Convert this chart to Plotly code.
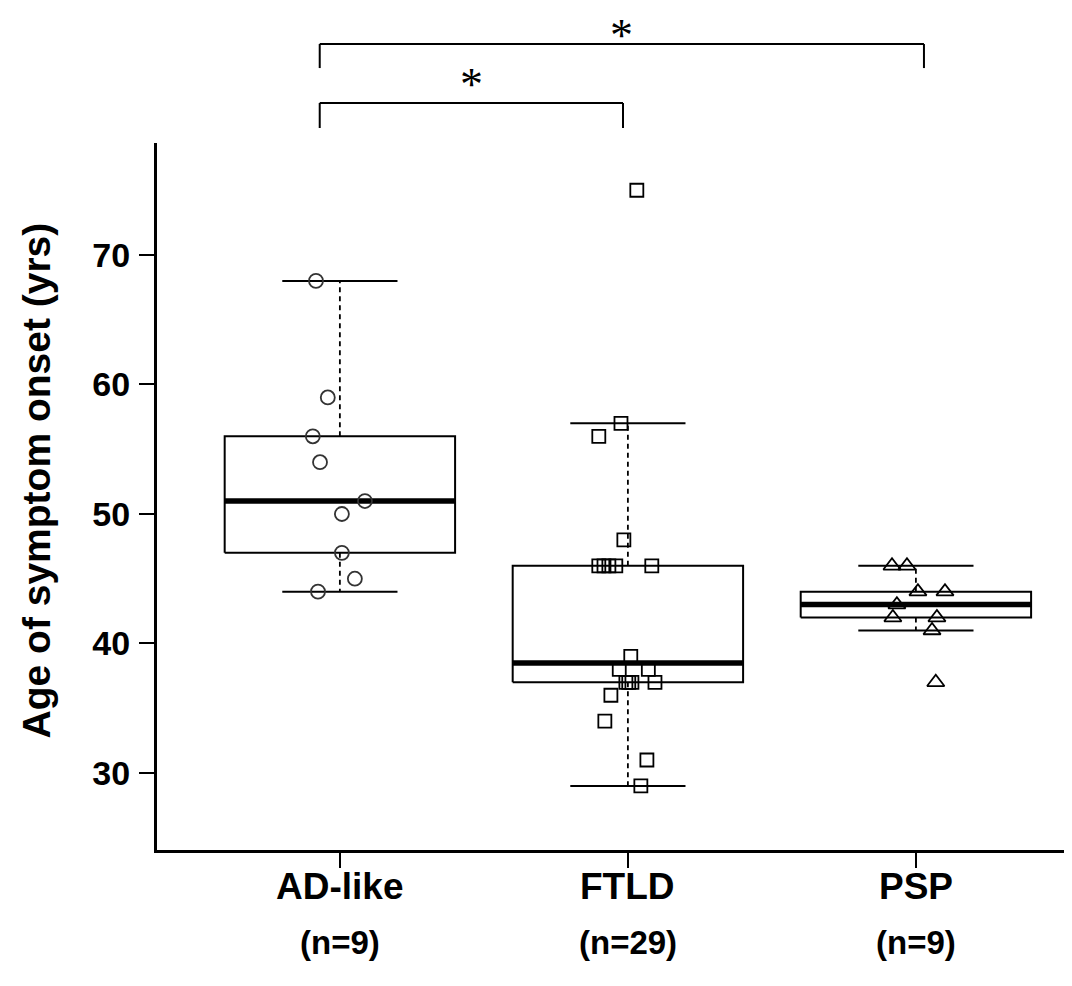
import plotly.graph_objects as go

# ---------------- data ----------------
groups = ["AD-like", "FTLD", "PSP"]
n_labels = ["(n=9)", "(n=29)", "(n=9)"]
positions = [1, 2, 3]

# box statistics (R boxplot hinges)
q1 = [47, 37, 42]
medians = [51, 38.5, 43]
q3 = [56, 46, 44]
lower_whisker = [44, 29, 41]
upper_whisker = [68, 57, 46]

# individual points (value, horizontal jitter)
ad_values = [68, 59, 56, 54, 51, 50, 47, 45, 44]
ad_jitter = [-0.083, -0.042, -0.094, -0.069, 0.087, 0.007, 0.007, 0.052, -0.076]

ftld_values = [75, 57, 56, 48, 46, 46, 46, 46, 46, 39, 38, 38, 37, 37, 37, 37, 36, 34, 31, 29]
ftld_jitter = [0.031, -0.024, -0.101, -0.014, -0.101, -0.083, -0.066, -0.042, 0.083,
               0.010, -0.030, 0.071, -0.007, 0.003, 0.014, 0.094, -0.059, -0.080, 0.066, 0.045]

psp_values = [46, 46, 44, 44, 43, 42, 42, 41, 37]
psp_jitter = [-0.083, -0.031, 0.007, 0.101, -0.066, -0.080, 0.073, 0.056, 0.069]

# significance comparisons (group pairs) and labels
sig_pairs = [(1, 3), (1, 2)]
sig_labels = ["*", "*"]

y_ticks = [30, 40, 50, 60, 70]

# ---------------- styling ----------------
BOX_HALF = 0.4
CAP_HALF = 0.2
FONT = "Liberation Sans, Arial, sans-serif"

fig = go.Figure()

# boxes
for i, pos in enumerate(positions):
    fig.add_trace(go.Scatter(
        x=[pos - BOX_HALF, pos + BOX_HALF, pos + BOX_HALF, pos - BOX_HALF, pos - BOX_HALF],
        y=[q1[i], q1[i], q3[i], q3[i], q1[i]],
        mode="lines", line=dict(color="black", width=2),
        fill="toself", fillcolor="white", hoverinfo="skip", showlegend=False))
    fig.add_trace(go.Scatter(
        x=[pos, pos, None, pos, pos],
        y=[q3[i], upper_whisker[i], None, q1[i], lower_whisker[i]],
        mode="lines", line=dict(color="black", width=1.8, dash="5px,4px"),
        hoverinfo="skip", showlegend=False))
    fig.add_trace(go.Scatter(
        x=[pos - CAP_HALF, pos + CAP_HALF, None, pos - CAP_HALF, pos + CAP_HALF],
        y=[upper_whisker[i], upper_whisker[i], None, lower_whisker[i], lower_whisker[i]],
        mode="lines", line=dict(color="black", width=2),
        hoverinfo="skip", showlegend=False))
    fig.add_trace(go.Scatter(
        x=[pos - BOX_HALF, pos + BOX_HALF],
        y=[medians[i], medians[i]],
        mode="lines", line=dict(color="black", width=5.5),
        hoverinfo="skip", showlegend=False))

# points
point_sets = [
    (ad_values, ad_jitter, "circle-open", 14, "#333333"),
    (ftld_values, ftld_jitter, "square-open", 13, "black"),
    (psp_values, psp_jitter, "triangle-up-open", 15, "black"),
]
for (vals, jit, sym, size, col), pos in zip(point_sets, positions):
    fig.add_trace(go.Scatter(
        x=[pos + j for j in jit], y=vals, mode="markers",
        marker=dict(symbol=sym, size=size, color=col, line=dict(width=1.8, color=col)),
        showlegend=False))

# significance brackets (bar level, leg end, label y in paper coords)
bracket_levels = [(1.140, 1.106, 1.191), (1.0566, 1.0212, 1.121)]
for (a, b), lab, (yb, yleg, ytxt) in zip(sig_pairs, sig_labels, bracket_levels):
    xa = a - 0.07
    xb = b - (0.017 if b == 2 else -0.028)
    for x0, y0, x1, y1 in [(xa, yleg, xa, yb), (xa, yb, xb, yb), (xb, yb, xb, yleg)]:
        fig.add_shape(type="line", xref="x", yref="paper",
                      x0=x0, y0=y0, x1=x1, y1=y1,
                      line=dict(color="black", width=2))
    fig.add_annotation(x=(xa + xb) / 2, y=ytxt, xref="x", yref="paper",
                       text=lab, showarrow=False, yanchor="top",
                       font=dict(family="Liberation Serif, Times New Roman, serif",
                                 size=46, color="black"))

# group labels and n labels
for pos, g, lab in zip(positions, groups, n_labels):
    fig.add_annotation(x=pos, y=-0.0523, xref="x", yref="paper", text=g,
                       showarrow=False, yanchor="middle",
                       font=dict(family=FONT, size=37, color="black", weight="bold"))
    fig.add_annotation(x=pos, y=-0.1315, xref="x", yref="paper", text=lab,
                       showarrow=False, yanchor="middle",
                       font=dict(family=FONT, size=33, color="black", weight="bold"))

# y axis title
fig.add_annotation(x=-0.132, y=0.523, xref="paper", yref="paper",
                   text="Age of symptom onset (yrs)", textangle=-90, showarrow=False,
                   xanchor="center", yanchor="middle",
                   font=dict(family=FONT, size=39, color="black", weight="bold"))

# page body has an 8px margin, so the figure is 8px smaller than the window
fig.update_layout(
    width=1064, height=978,
    margin=dict(l=149, r=0, t=135, b=136),
    plot_bgcolor="white", paper_bgcolor="white",
    showlegend=False,
    xaxis=dict(range=[0.365, 3.542], tickvals=positions, showticklabels=False,
               showline=True, linecolor="black", linewidth=3,
               ticks="outside", ticklen=15, tickwidth=1.5, tickcolor="black",
               showgrid=False, zeroline=False),
    yaxis=dict(range=[24.05, 78.65], tickvals=y_ticks,
               showline=True, linecolor="black", linewidth=3,
               ticks="outside", ticklen=15, tickwidth=1.5, tickcolor="black",
               showgrid=False, zeroline=False, ticklabelstandoff=2,
               tickfont=dict(family=FONT, size=34, color="black", weight="bold")),
)

fig.write_html("out.html")
